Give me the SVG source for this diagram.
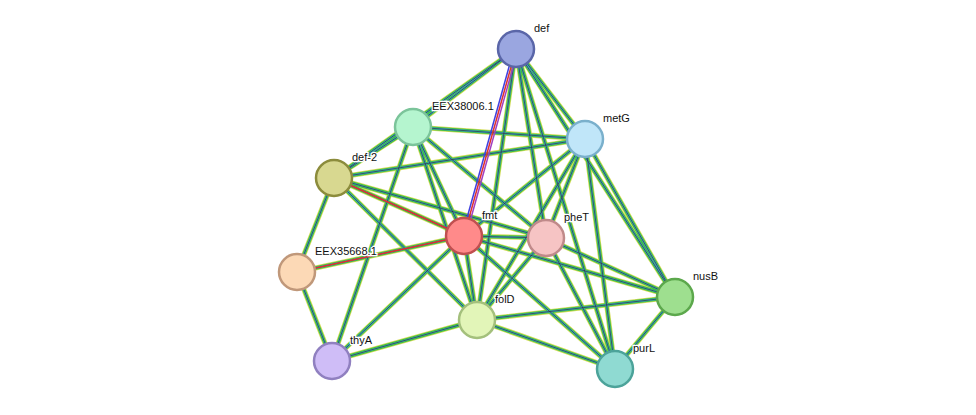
<svg xmlns="http://www.w3.org/2000/svg" width="976" height="415" viewBox="0 0 976 415">
<style>
.e1{stroke:#d4dc5a;stroke-width:5;fill:none}
.e2{stroke:#3cbf3c;stroke-width:3.4;fill:none}
.e3{stroke:#3aa8c8;stroke-width:1.8;fill:none}
.e4{stroke:#333;stroke-width:0.7;fill:none}
.n{stroke-width:2.5}
text{font-family:"Liberation Sans",Arial,sans-serif;font-size:11px;fill:#111;stroke:#fff;stroke-width:2.5;paint-order:stroke}
</style>
<rect width="976" height="415" fill="#fff"/>
<defs>
<g id="E">
<path d="M516,49L413,127M516,49L585,139M516,49L334,178M516,49L546,238M516,49L477,320M516,49L675,297M516,49L615,369M413,127L585,139M413,127L334,178M413,127L546,238M413,127L477,320M413,127L332,361M585,139L334,178M585,139L464,236M585,139L546,238M585,139L675,297M585,139L615,369M585,139L477,320M334,178L546,238M334,178L297,272M334,178L477,320M464,236L546,238M464,236L297,272M464,236L477,320M464,236L675,297M464,236L615,369M464,236L332,361M546,238L675,297M546,238L615,369M546,238L477,320M297,272L332,361M477,320L332,361M477,320L675,297M477,320L615,369M675,297L615,369M413,127L464,236M334,178L464,236"/>
</g>
</defs>
<g id="connectors">
<use href="#E" class="e1"/>
<use href="#E" class="e2"/>
<use href="#E" class="e3"/>
<use href="#E" class="e4"/>
<path d="M516,49L464,236M334,178L464,236M297,272L464,236" stroke="#e03030" stroke-width="1.5" fill="none"/>
<path d="M518,49L466,236" stroke="#a040c0" stroke-width="1.5" fill="none"/>
<path d="M514,49L462,236" stroke="#4040e0" stroke-width="1.5" fill="none"/>
</g>
<g id="def"><circle class="n" cx="516" cy="49" r="18" fill="#9aa6e0" stroke="#5a66a8"/><text x="534" y="32">def</text></g>
<g id="EEX38006.1"><circle class="n" cx="413" cy="127" r="18" fill="#b5f5cf" stroke="#7bc49a"/><text x="432" y="110">EEX38006.1</text></g>
<g id="metG"><circle class="n" cx="585" cy="139" r="18" fill="#c0e6f9" stroke="#7ab0cc"/><text x="603" y="122">metG</text></g>
<g id="def-2"><circle class="n" cx="334" cy="178" r="18" fill="#d8d890" stroke="#8c8c3c"/><text x="352" y="161">def-2</text></g>
<g id="fmt"><circle class="n" cx="464" cy="236" r="18" fill="#ff8a8a" stroke="#c05050"/><text x="482" y="219">fmt</text></g>
<g id="pheT"><circle class="n" cx="546" cy="238" r="18" fill="#f6c4c4" stroke="#c08a8a"/><text x="564" y="221">pheT</text></g>
<g id="EEX35668.1"><circle class="n" cx="297" cy="272" r="18" fill="#fcd9b6" stroke="#c0987a"/><text x="315" y="255">EEX35668.1</text></g>
<g id="nusB"><circle class="n" cx="675" cy="297" r="18" fill="#9edf8f" stroke="#5ca84c"/><text x="693" y="280">nusB</text></g>
<g id="folD"><circle class="n" cx="477" cy="320" r="18" fill="#e2f5b8" stroke="#a4c07c"/><text x="495" y="303">folD</text></g>
<g id="thyA"><circle class="n" cx="332" cy="361" r="18" fill="#cfbdf7" stroke="#9080c0"/><text x="350" y="344">thyA</text></g>
<g id="purL"><circle class="n" cx="615" cy="369" r="18" fill="#8fdad2" stroke="#4ca39a"/><text x="633" y="352">purL</text></g>
</svg>
